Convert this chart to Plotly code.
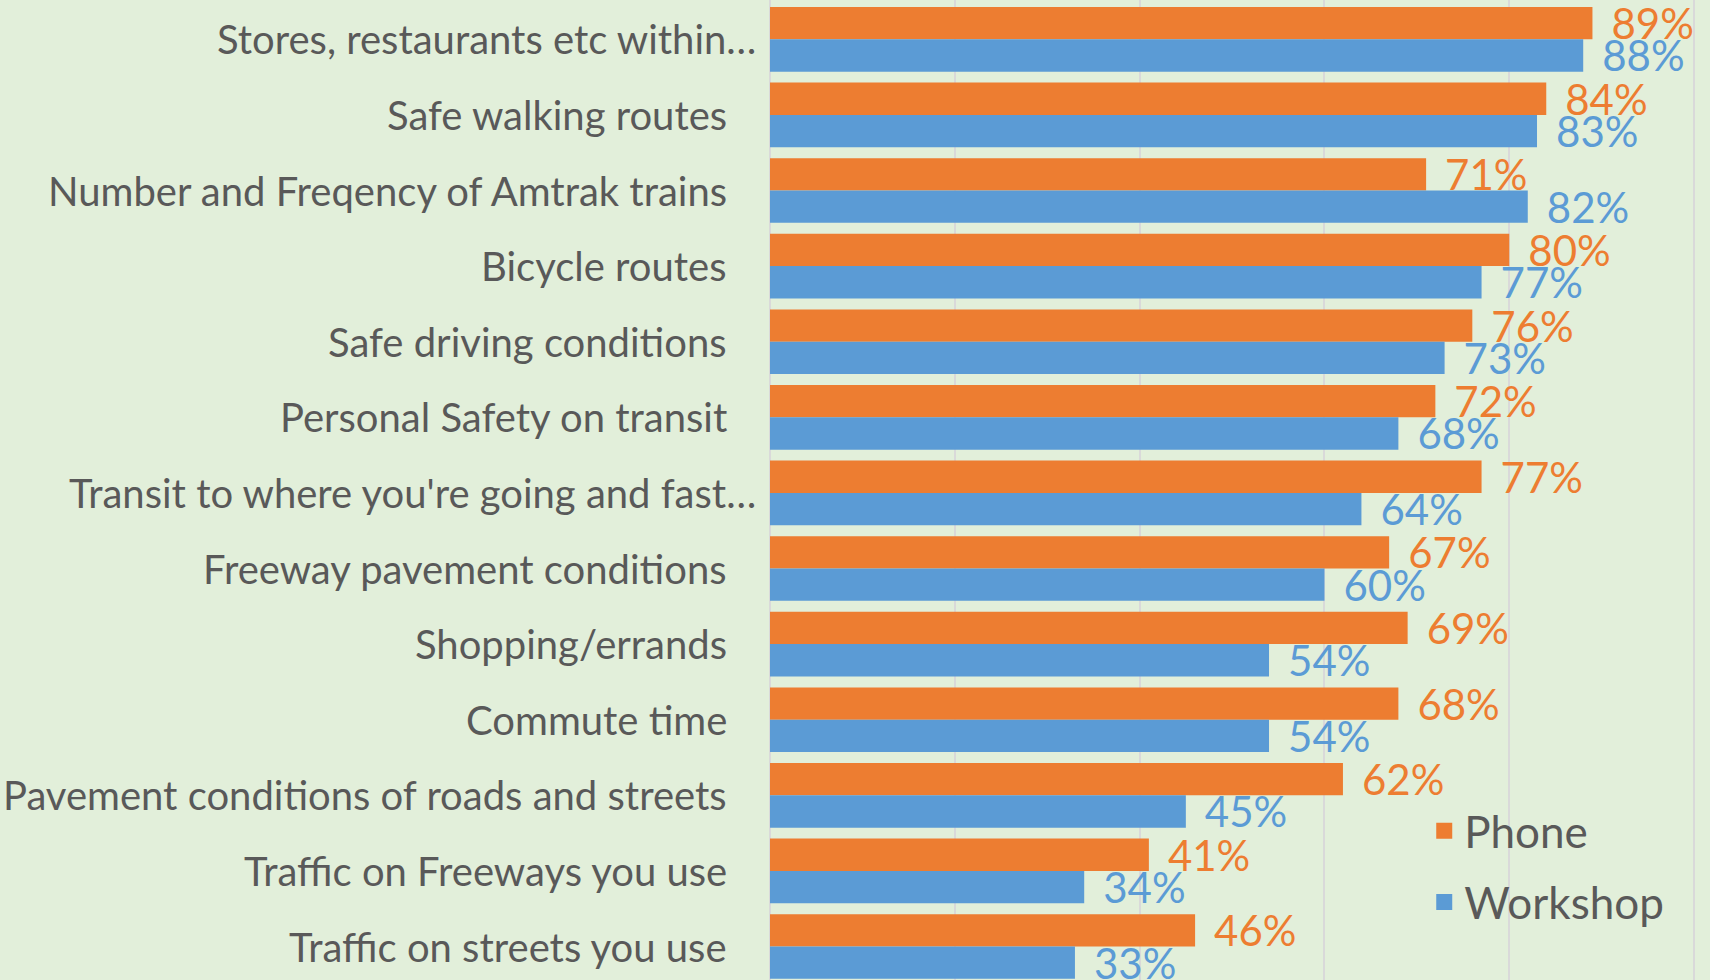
import plotly.graph_objects as go

categories = [
    "Stores, restaurants etc within…",
    "Safe walking routes",
    "Number and Freqency of Amtrak trains",
    "Bicycle routes",
    "Safe driving conditions",
    "Personal Safety on transit",
    "Transit to where you're going and fast…",
    "Freeway pavement conditions",
    "Shopping/errands",
    "Commute time",
    "Pavement conditions of roads and streets",
    "Traffic on Freeways you use",
    "Traffic on streets you use",
]
phone = [89, 84, 71, 80, 76, 72, 77, 67, 69, 68, 62, 41, 46]
workshop = [88, 83, 82, 77, 73, 68, 64, 60, 54, 54, 45, 34, 33]
series_names = ["Phone", "Workshop"]

ORANGE = "#ED7D31"
BLUE = "#5B9BD5"
BG = "#E2EFDA"
GRID = "#D9D9D9"
TEXT = "#595959"
FONT = "Lato, 'Open Sans', sans-serif"

fig = go.Figure()
for name, vals, color in zip(series_names, [phone, workshop], [ORANGE, BLUE]):
    fig.add_trace(go.Bar(
        y=categories,
        x=[v / 100 for v in vals],
        orientation="h",
        name=name,
        legendgroup=name,
        showlegend=False,
        marker=dict(color=color, line=dict(width=0)),
        text=[f"{v}%" for v in vals],
        texttemplate="\u00a0\u2009%{text}",
        textposition="outside",
        textfont=dict(family=FONT, size=42, color=color),
        constraintext="none",
        cliponaxis=False,
        hoverinfo="skip",
    ))
# legend entries (square swatches) linked to the bar series
for name, color in zip(series_names, [ORANGE, BLUE]):
    fig.add_trace(go.Scatter(
        x=[None], y=[None], mode="markers", name=name, legendgroup=name,
        marker=dict(symbol="square", size=26, color=color),
        hoverinfo="skip",
    ))

# category labels (right aligned against the axis)
for cat in categories:
    truncated = cat.endswith("…")
    fig.add_annotation(
        x=0, xref="x", y=cat, yref="y",
        text=cat, showarrow=False,
        xanchor="right", yanchor="middle",
        xshift=-12 if truncated else -41,
        font=dict(family=FONT, size=40, color=TEXT),
    )

fig.update_layout(
    width=1710, height=980,
    margin=dict(l=770, r=0, t=0, b=0, pad=0),
    paper_bgcolor=BG, plot_bgcolor=BG,
    barmode="group", bargap=0.145, bargroupgap=0,
    font=dict(family=FONT, color=TEXT),
    legend=dict(
        x=0.696, y=0.188, xanchor="left", yanchor="top",
        font=dict(family=FONT, size=44, color=TEXT),
        bgcolor="rgba(0,0,0,0)",
        traceorder="grouped", tracegroupgap=11,
        itemsizing="trace",
    ),
    showlegend=True,
)
fig.update_xaxes(
    range=[0, 1.0172], tick0=0, dtick=0.2,
    showticklabels=False, showgrid=True, gridcolor=GRID, gridwidth=1.5,
    zeroline=True, zerolinecolor=GRID, zerolinewidth=1.5,
    showline=False, fixedrange=True,
)
fig.update_yaxes(
    type="category", categoryorder="array", categoryarray=categories,
    range=[12.443, -0.52], showticklabels=False, showgrid=False,
    zeroline=False, fixedrange=True,
)

fig.write_html(
    "out.html",
    config={"displayModeBar": False},
    post_script="document.body.style.margin='0';document.body.style.background='" + BG + "';",
)
